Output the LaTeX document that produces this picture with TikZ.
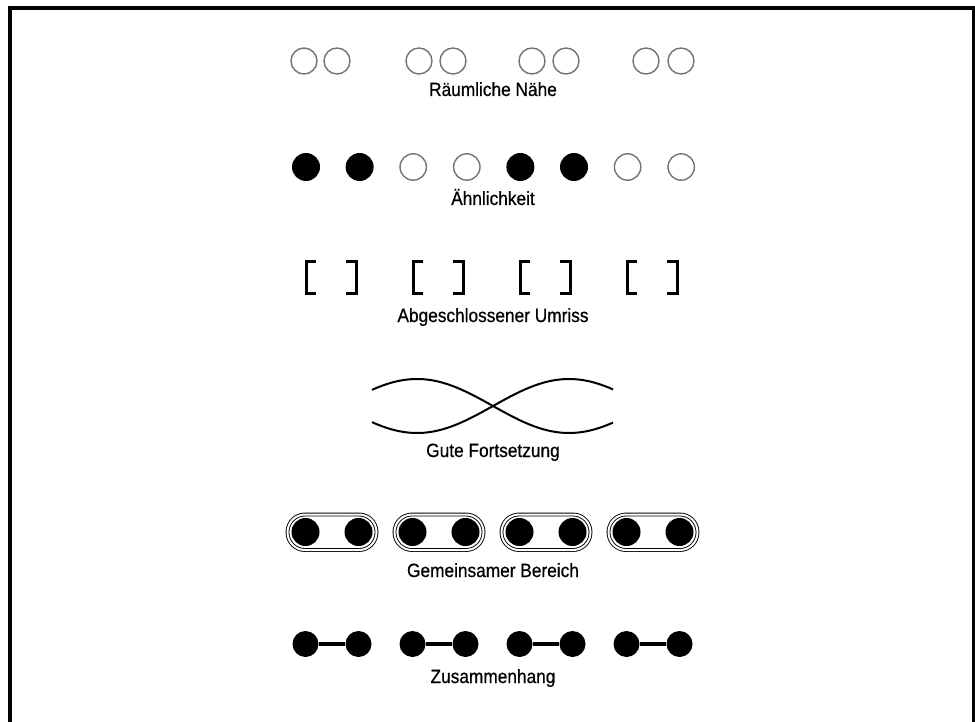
\documentclass[tikz,border=0pt]{standalone}
\usepackage{fontspec}
\setmainfont{Liberation Sans}[FakeStretch=0.9,FakeBold=0.6]
\begin{document}
\begin{tikzpicture}[x=0.5pt,y=-0.5pt,
  caption/.style={anchor=base,font=\fontsize{9.6}{11}\selectfont},
  ring/.style={draw=black!55,line width=0.7pt},
  dot/.style={circle,fill=black,inner sep=0pt,minimum size=#1},
  bracket/.style={line width=1.5pt},
  area/.style={draw=black,line width=0.45pt,double=white,double distance=1pt,rounded corners=8.75pt}]
  \useasboundingbox (0,0) rectangle (975,722);
  \draw[line width=2pt] (10,722) -- (10,8.5) -- (974,8.5) -- (974,722);

  % Raeumliche Naehe
  \foreach \x in {304,337,419,453,532,566,646,681}
    \draw[ring] (\x,61) circle[radius=6.5pt];
  \node[caption] (naehe) at (493,96) {Räumliche Nähe};

  % Aehnlichkeit
  \foreach \i/\f in {0/1,1/1,2/0,3/0,4/1,5/1,6/0,7/0} {
    \ifnum\f=1
      \fill (306+53.6*\i,167) circle[radius=7pt];
    \else
      \draw[ring] (306+53.6*\i,167) circle[radius=6.6pt];
    \fi
  }
  \node[caption] (aehnlich) at (493,205) {Ähnlichkeit};

  % Abgeschlossener Umriss
  \foreach \c in {332,439,546,653} {
    \draw[bracket] (\c-16,261.5) -- (\c-25.5,261.5) -- (\c-25.5,293.5) -- (\c-16,293.5);
    \draw[bracket] (\c+14,261.5) -- (\c+24.5,261.5) -- (\c+24.5,293.5) -- (\c+14,293.5);
  }
  \node[caption] (umriss) at (493,322) {Abgeschlossener Umriss};

  % Gute Fortsetzung
  \draw[line width=1pt] plot[domain=372:613,samples=80,smooth] (\x,{406-27*cos((\x-417)/152*180)});
  \draw[line width=1pt] plot[domain=372:613,samples=80,smooth] (\x,{406+27*cos((\x-417)/152*180)});
  \node[caption] (fortsetzung) at (493,457) {Gute Fortsetzung};

  % Gemeinsamer Bereich
  \foreach \c in {332,439,546,653} {
    \draw[area] (\c-44.5,514.5) rectangle (\c+44.5,550);
    \node[dot=14pt] at (\c-26.5,532) {};
    \node[dot=14pt] at (\c+26.5,532) {};
  }
  \node[caption] (bereich) at (493,577) {Gemeinsamer Bereich};

  % Zusammenhang
  \foreach \i/\c in {1/332,2/439,3/546,4/653} {
    \node[dot=13pt] (z\i a) at (\c-26.5,644) {};
    \node[dot=13pt] (z\i b) at (\c+26.5,644) {};
    \draw[line width=1.7pt] (z\i a) -- (z\i b);
  }
  \node[caption] (zusammen) at (493,683) {Zusammenhang};
\end{tikzpicture}
\end{document}
